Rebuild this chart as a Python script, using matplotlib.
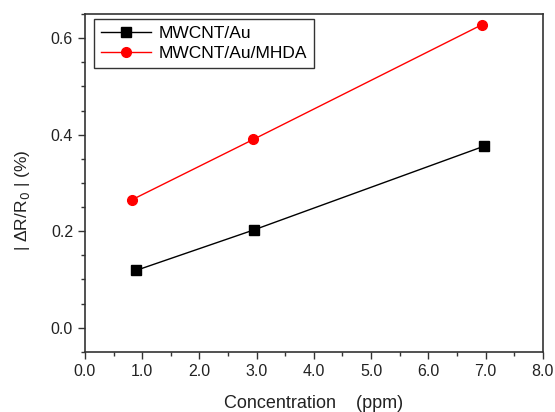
import matplotlib
matplotlib.use('Agg')
import matplotlib.pyplot as plt
from matplotlib.ticker import MultipleLocator, FormatStrFormatter

plt.rcParams['font.family'] = ['Liberation Sans', 'DejaVu Sans']

# data
conc_au = [0.90, 2.96, 6.97]
resp_au = [0.119, 0.203, 0.376]
conc_mhda = [0.82, 2.94, 6.94]
resp_mhda = [0.265, 0.390, 0.628]

fig = plt.figure(figsize=(5.55, 4.12), dpi=100)
ax = fig.add_axes([0.153, 0.146, 0.825, 0.820])

ax.plot(conc_au, resp_au, color='black', marker='s', markersize=7, lw=1, label='MWCNT/Au')
ax.plot(conc_mhda, resp_mhda, color='red', marker='o', markersize=7, lw=1, label='MWCNT/Au/MHDA')

ax.set_xlim(0, 8)
ax.set_ylim(-0.05, 0.65)
ax.xaxis.set_major_locator(MultipleLocator(1))
ax.xaxis.set_minor_locator(MultipleLocator(0.5))
ax.yaxis.set_major_locator(MultipleLocator(0.2))
ax.yaxis.set_minor_locator(MultipleLocator(0.05))
ax.xaxis.set_major_formatter(FormatStrFormatter('%.1f'))
ax.yaxis.set_major_formatter(FormatStrFormatter('%.1f'))
ax.tick_params(which='both', direction='out', labelsize=11.5, width=1, colors='#333333', labelcolor='#222222')
ax.tick_params(which='major', length=5)
ax.tick_params(which='minor', length=3)
for s in ax.spines.values():
    s.set_color('#333333')
    s.set_linewidth(1.2)

ax.set_xlabel('Concentration    (ppm)', fontsize=13, labelpad=12, color='#222222')
ax.set_ylabel('| ΔR/R$_0$ | (%)', fontsize=12.5, color='#222222')
ax.yaxis.set_label_coords(-0.115, 0.45)

leg = ax.legend(loc='upper left', bbox_to_anchor=(0.012, 0.996), fontsize=12.5, frameon=True,
                fancybox=False, edgecolor='black', handlelength=2.9, borderpad=0.4,
                labelspacing=0.3, handletextpad=0.45, borderaxespad=0.2)
leg.get_frame().set_linewidth(1)

fig.savefig('out.png', dpi=100)
